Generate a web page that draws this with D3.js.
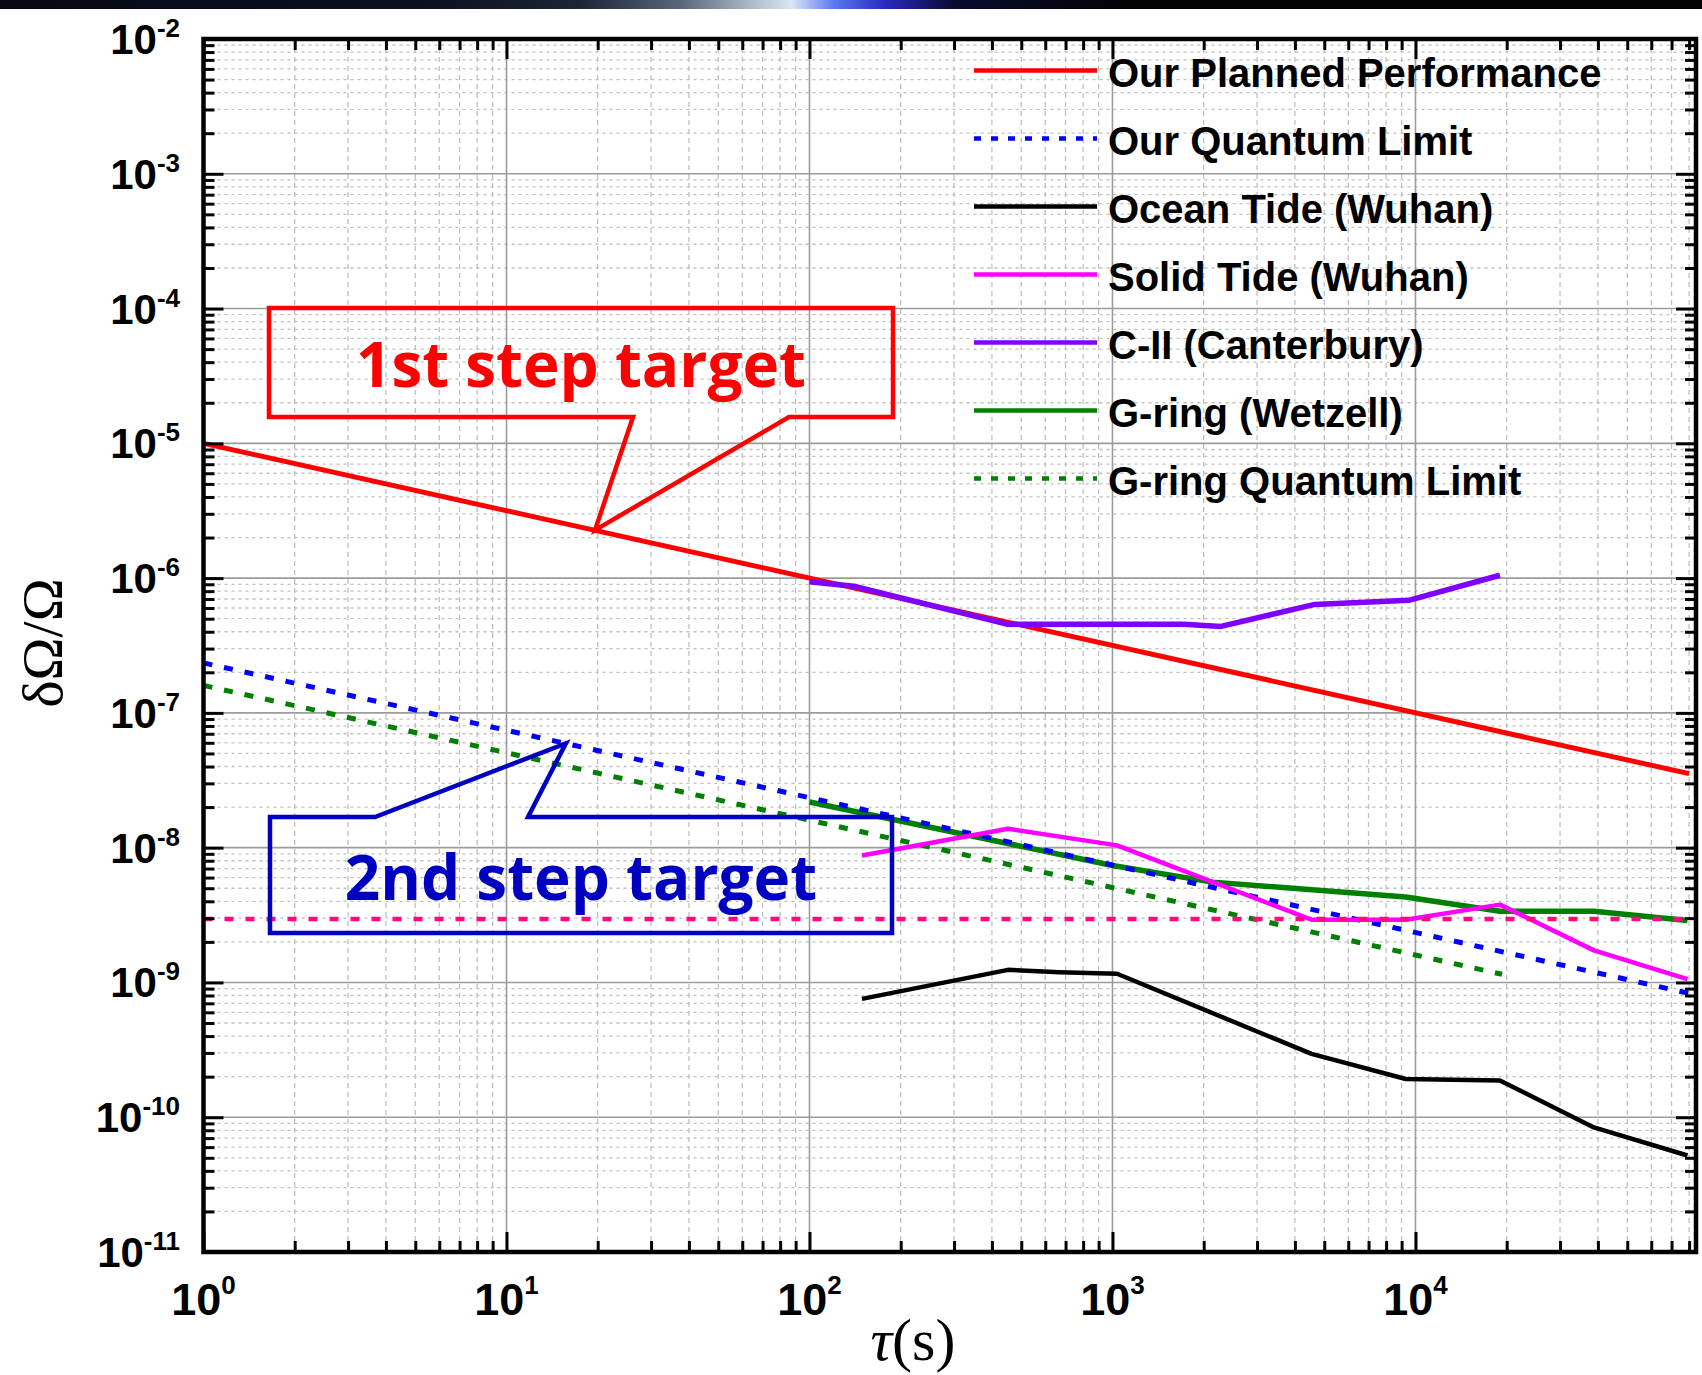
<!DOCTYPE html>
<html><head><meta charset="utf-8">
<script src="https://cdn.jsdelivr.net/npm/d3@7"></script>
<style>
html,body{margin:0;padding:0;background:#fff;}
svg{display:block;}
</style></head>
<body>
<svg id="chart" width="1702" height="1375"></svg>
<script>
// ---------------- data ----------------
const xTickExponents = ["0", "1", "2", "3", "4"];
const yTickExponents = ["-2", "-3", "-4", "-5", "-6", "-7", "-8", "-9", "-10", "-11"];
const seriesNames = ["Our Planned Performance", "Our Quantum Limit", "Ocean Tide (Wuhan)",
  "Solid Tide (Wuhan)", "C-II (Canterbury)", "G-ring (Wetzell)", "G-ring Quantum Limit"];

const plannedTau = [1, 80000];
const plannedVal = [1.0e-5, 3.54e-8];
const quantumTau = [1, 80000];
const quantumVal = [2.35e-7, 8.3e-10];
const oceanTau = [149, 452, 669, 1035, 4540, 9290, 19000, 38800, 79000];
const oceanVal = [7.55e-10, 1.24e-9, 1.19e-9, 1.16e-9, 2.95e-10, 1.92e-10, 1.87e-10, 8.4e-11, 5.2e-11];
const solidTau = [149, 452, 1035, 4540, 9290, 19000, 38800, 79000];
const solidVal = [8.75e-9, 1.38e-8, 1.04e-8, 2.92e-9, 2.92e-9, 3.78e-9, 1.73e-9, 1.06e-9];
const c2Tau = [100, 140, 452, 1720, 2280, 4650, 9500, 19000];
const c2Val = [9.4e-7, 8.7e-7, 4.54e-7, 4.54e-7, 4.38e-7, 6.38e-7, 6.84e-7, 1.05e-6];
const gringTau = [100, 1000, 2140, 9290, 19000, 38800, 79000];
const gringVal = [2.18e-8, 7.38e-9, 5.55e-9, 4.3e-9, 3.38e-9, 3.38e-9, 2.88e-9];
const gringQLTau = [1, 19300];
const gringQLVal = [1.6e-7, 1.15e-9];
const refLineTau = [1, 84300];
const refLineVal = [2.95e-9, 2.95e-9];

const target1Tip = [19.6, 2.27e-6];
const target2Tip = [15.7, 5.94e-8];

// ---------------- layout ----------------
const L = 203.5, R = 1696, T = 39, B = 1252;
const svg = d3.select("#chart");
const x = d3.scaleLog().domain([1, 84300]).range([L, R]);
const y = d3.scaleLog().domain([1e-11, 1e-2]).range([B, T]);

const isMajor = v => Math.abs(Math.log10(v) - Math.round(Math.log10(v))) < 1e-9;
const xAll = x.ticks(), yAll = y.ticks();
const xMajor = xAll.filter(isMajor), xMinor = xAll.filter(v => !isMajor(v));
const yMajor = yAll.filter(isMajor), yMinor = yAll.filter(v => !isMajor(v));

// background
svg.append("rect").attr("width", 1702).attr("height", 1375).attr("fill", "#fff");

// top banner
const defs = svg.append("defs");
const grad = defs.append("linearGradient").attr("id", "banner");
[[0, "#070812"], [0.25, "#0c0f22"], [0.34, "#1c2436"], [0.40, "#58687a"], [0.44, "#a9b7c6"],
 [0.465, "#dbe6f4"], [0.49, "#5a78f0"], [0.52, "#2a2ac0"], [0.56, "#0a0a30"], [0.65, "#040408"], [1, "#030305"]]
  .forEach(s => grad.append("stop").attr("offset", s[0]).attr("stop-color", s[1]));
svg.append("rect").attr("x", 0).attr("y", 0).attr("width", 1702).attr("height", 9).attr("fill", "url(#banner)");

defs.append("clipPath").attr("id", "plotclip").append("rect")
  .attr("x", L).attr("y", T).attr("width", R - L).attr("height", B - T);

// grid
const grid = svg.append("g");
grid.selectAll(".gxm").data(xMinor).join("line")
  .attr("x1", d => x(d)).attr("x2", d => x(d)).attr("y1", T).attr("y2", B)
  .attr("stroke", "#c0c0c0").attr("stroke-width", 1.3).attr("stroke-dasharray", "5,4");
grid.selectAll(".gym").data(yMinor).join("line")
  .attr("y1", d => y(d)).attr("y2", d => y(d)).attr("x1", L).attr("x2", R)
  .attr("stroke", "#c0c0c0").attr("stroke-width", 1.3).attr("stroke-dasharray", "3,4");
grid.selectAll(".gxM").data(xMajor.slice(1)).join("line")
  .attr("x1", d => x(d)).attr("x2", d => x(d)).attr("y1", T).attr("y2", B)
  .attr("stroke", "#9c9c9c").attr("stroke-width", 1.6);
grid.selectAll(".gyM").data(yMajor.slice(1, -1)).join("line")
  .attr("y1", d => y(d)).attr("y2", d => y(d)).attr("x1", L).attr("x2", R)
  .attr("stroke", "#9c9c9c").attr("stroke-width", 1.6);

// series
const line = d3.line().x(d => x(d[0])).y(d => y(d[1]));
const zip = (a, b) => a.map((v, i) => [v, b[i]]);
const series = [
  {name: seriesNames[0], data: zip(plannedTau, plannedVal), color: "#ff0000", w: 5, dash: null},
  {name: seriesNames[5], data: zip(gringTau, gringVal), color: "#008000", w: 5.5, dash: null},
  {name: seriesNames[1], data: zip(quantumTau, quantumVal), color: "#0000ff", w: 5, dash: "9,12"},
  {name: seriesNames[6], data: zip(gringQLTau, gringQLVal), color: "#008000", w: 5, dash: "9,12"},
  {name: seriesNames[2], data: zip(oceanTau, oceanVal), color: "#000000", w: 4.5, dash: null},
  {name: seriesNames[3], data: zip(solidTau, solidVal), color: "#ff00ff", w: 4.5, dash: null},
  {name: seriesNames[4], data: zip(c2Tau, c2Val), color: "#8000ff", w: 5.5, dash: null},
  {name: "reference", data: zip(refLineTau, refLineVal), color: "#ff0a80", w: 4.5, dash: "9,12"}
];
const sg = svg.append("g").attr("clip-path", "url(#plotclip)");
series.forEach(s => {
  sg.append("path").attr("d", line(s.data)).attr("fill", "none")
    .attr("stroke", s.color).attr("stroke-width", s.w)
    .attr("stroke-dasharray", s.dash).attr("stroke-linejoin", "round");
});

// callouts
function callout(box, tip, color, text, baseline, pointerOnTop) {
  const [tx, ty] = [x(tip[0]), y(tip[1])];
  let p;
  if (pointerOnTop) {
    p = `M${box.l},${box.t}L${box.bl},${box.t}L${tx},${ty}L${box.br},${box.t}L${box.r},${box.t}L${box.r},${box.b}L${box.l},${box.b}Z`;
  } else {
    p = `M${box.l},${box.t}L${box.r},${box.t}L${box.r},${box.b}L${box.br},${box.b}L${tx},${ty}L${box.bl},${box.b}L${box.l},${box.b}Z`;
  }
  svg.append("path").attr("d", p).attr("fill", "none").attr("stroke", color)
    .attr("stroke-width", 4.5).attr("stroke-linejoin", "miter");
  svg.append("text").attr("x", (box.l + box.r) / 2).attr("y", baseline)
    .attr("text-anchor", "middle").attr("font-family", "'Open Sans', sans-serif")
    .attr("font-weight", 700).attr("font-size", 62).attr("fill", color).text(text);
}
callout({l: 269, t: 308, r: 893, b: 417, bl: 633, br: 789}, target1Tip, "#ff0000", "1st step target", 387, false);
callout({l: 270, t: 817, r: 892, b: 933, bl: 375, br: 528}, target2Tip, "#0000c0", "2nd step target", 900, true);

// axes ticks
function styleAxis(g) {
  g.select(".domain").remove();
  g.selectAll(".tick line").attr("stroke", "#000").attr("stroke-width", 3);
  g.selectAll(".tick text").remove();
}
const axes = svg.append("g");
const mk = (axisFn, vals, size, tr) => axes.append("g").attr("transform", tr)
  .call(axisFn.tickValues(vals).tickSizeInner(-size).tickSizeOuter(0).tickFormat(""))
  .call(styleAxis);
mk(d3.axisBottom(x), xMinor, 11, `translate(0,${B})`);
mk(d3.axisBottom(x), xMajor, 20, `translate(0,${B})`);
mk(d3.axisTop(x), xMinor, 11, `translate(0,${T})`);
mk(d3.axisTop(x), xMajor, 20, `translate(0,${T})`);
mk(d3.axisLeft(y), yMinor, 11, `translate(${L},0)`);
mk(d3.axisLeft(y), yMajor, 20, `translate(${L},0)`);
mk(d3.axisRight(y), yMinor, 11, `translate(${R},0)`);
mk(d3.axisRight(y), yMajor, 20, `translate(${R},0)`);

// frame
svg.append("rect").attr("x", L).attr("y", T).attr("width", R - L).attr("height", B - T)
  .attr("fill", "none").attr("stroke", "#000").attr("stroke-width", 4.5);

// tick labels
const lab = svg.append("g").attr("font-family", "'Liberation Sans', Arial, sans-serif").attr("font-weight", 700).attr("fill", "#000");
xMajor.forEach((v, i) => {
  const t = lab.append("text").attr("x", x(v)).attr("y", 1315).attr("text-anchor", "middle").attr("font-size", 45);
  t.append("tspan").text("10");
  t.append("tspan").attr("font-size", 26).attr("dy", -21).text(xTickExponents[i]);
});
yMajor.slice().reverse().forEach((v, i) => {
  const t = lab.append("text").attr("x", 180).attr("y", y(v) + 15).attr("text-anchor", "end").attr("font-size", 42);
  t.append("tspan").text("10");
  t.append("tspan").attr("font-size", 26).attr("dy", -17).text(yTickExponents[i]);
});

// axis titles
svg.append("text").attr("transform", "translate(62,643) rotate(-90)")
  .attr("text-anchor", "middle").attr("font-family", "'Liberation Serif', 'Times New Roman', serif")
  .attr("font-size", 58).attr("fill", "#000").text("δΩ/Ω");
const xt = svg.append("text").attr("x", 913).attr("y", 1360).attr("text-anchor", "middle")
  .attr("font-family", "'Liberation Serif', 'Times New Roman', serif").attr("font-size", 60).attr("fill", "#000");
xt.append("tspan").attr("font-style", "italic").text("τ");
xt.append("tspan").text("(s)");

// legend
const legendItems = [
  {name: seriesNames[0], color: "#ff0000", dash: null},
  {name: seriesNames[1], color: "#0000ff", dash: "7,10"},
  {name: seriesNames[2], color: "#000000", dash: null},
  {name: seriesNames[3], color: "#ff00ff", dash: null},
  {name: seriesNames[4], color: "#8000ff", dash: null},
  {name: seriesNames[5], color: "#008000", dash: null},
  {name: seriesNames[6], color: "#008000", dash: "7,10"}
];
const lg = svg.append("g");
legendItems.forEach((d, i) => {
  const yy = 70.5 + i * 68;
  lg.append("line").attr("x1", 974).attr("x2", 1097).attr("y1", yy).attr("y2", yy)
    .attr("stroke", d.color).attr("stroke-width", 4.5).attr("stroke-dasharray", d.dash);
  lg.append("text").attr("x", 1108).attr("y", yy + 16).attr("font-family", "'Liberation Sans', Arial, sans-serif")
    .attr("font-weight", 700).attr("font-size", 40).attr("fill", "#000").text(d.name);
});
</script>
</body></html>
